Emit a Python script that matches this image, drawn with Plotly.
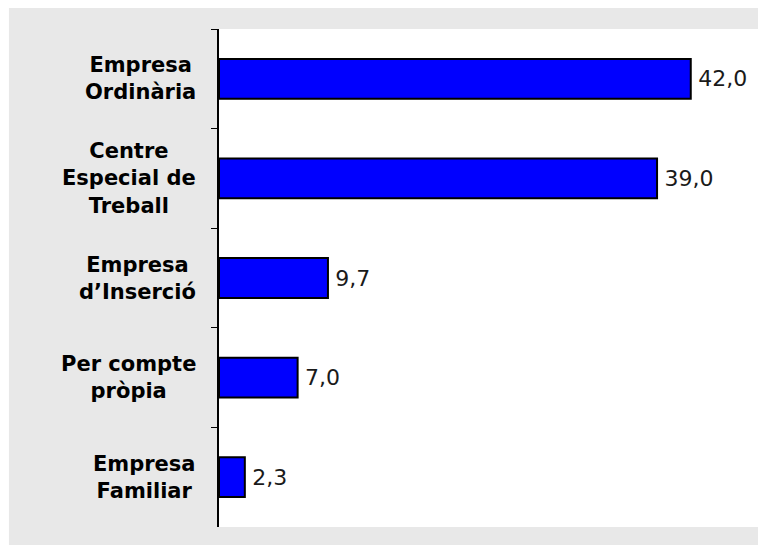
import plotly.graph_objects as go

categories = ["Empresa<br>Ordinària", "Centre<br>Especial de<br>Treball",
              "Empresa<br>d’Inserció", "Per compte<br>pròpia", "Empresa<br>Familiar"]
values = [42.0, 39.0, 9.7, 7.0, 2.3]
value_labels = ["\u2009" + f"{v:.1f}".replace(".", ",") for v in values]

fig = go.Figure(go.Bar(
    x=values, y=categories, orientation="h",
    marker=dict(color="#0000ff", line=dict(color="black", width=2)),
    text=value_labels, textposition="outside", cliponaxis=False,
    textfont=dict(family="DejaVu Sans", size=22, color="#1a1a1a"),
))

# gray panel behind everything, white plot area on top of it
fig.add_shape(type="rect", xref="paper", yref="paper", layer="below",
              x0=-0.384, x1=1.01, y0=-0.05, y1=1.05,
              fillcolor="#e8e8e8", line_width=0)
fig.add_shape(type="rect", xref="paper", yref="paper", layer="below",
              x0=0, x1=1.01, y0=0, y1=1,
              fillcolor="white", line_width=0)

for cat in categories:
    fig.add_annotation(text=f"<b>{cat}</b>", x=0, xref="paper", y=cat, yref="y",
                       xanchor="right", align="center", xshift=-21, showarrow=False,
                       font=dict(family="DejaVu Sans", size=21, color="black"))

# page body adds an 8px margin, so the figure is sized to fit the window
fig.update_layout(
    width=758, height=537,
    margin=dict(l=211, r=0, t=21, b=18),
    paper_bgcolor="white", plot_bgcolor="rgba(0,0,0,0)",
    bargap=0.6, showlegend=False,
)
fig.update_xaxes(range=[0, 48.7], visible=False)
fig.update_yaxes(autorange="reversed", showticklabels=False, showline=True,
                 linecolor="black", linewidth=1.5, ticks="outside", tickson="boundaries",
                 ticklen=6, tickcolor="black", tickwidth=1, showgrid=False)

fig.write_html("out.html")
